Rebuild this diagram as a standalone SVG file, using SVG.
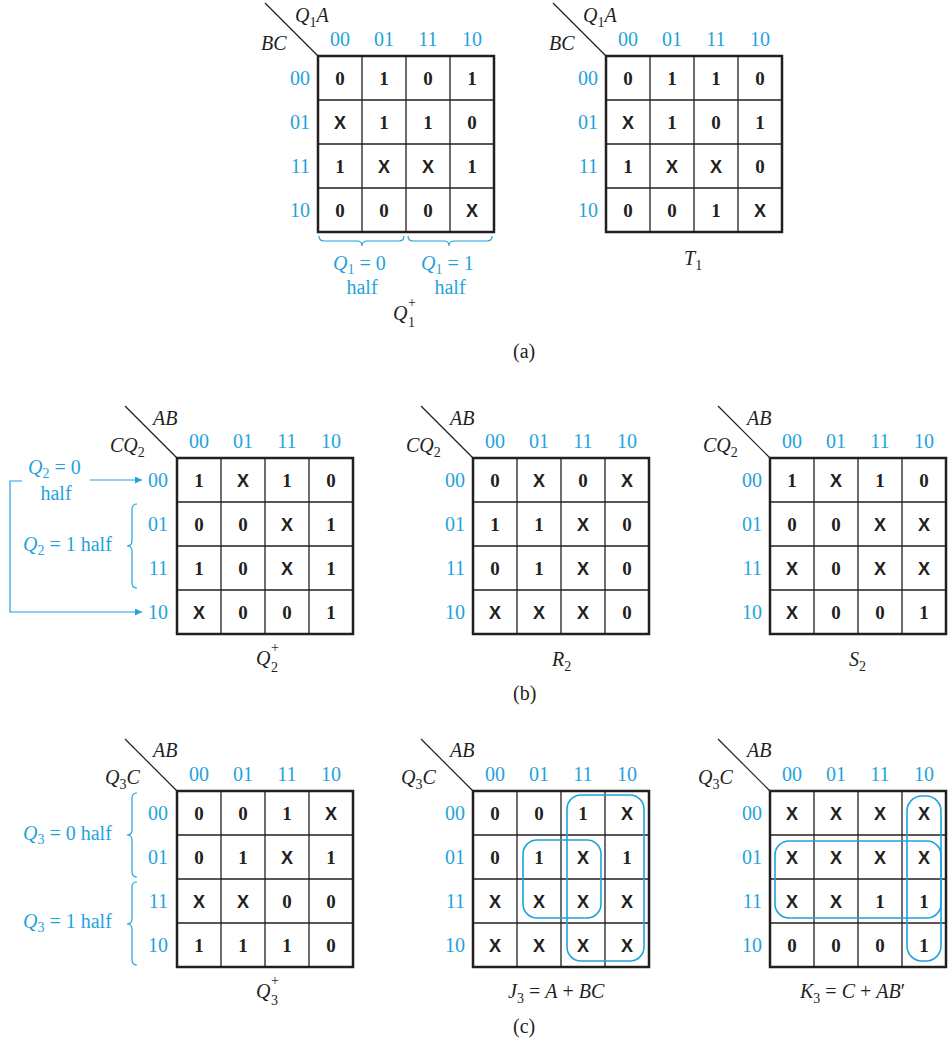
<svg xmlns="http://www.w3.org/2000/svg" width="948" height="1041" viewBox="0 0 948 1041">
<style>
text{font-family:"Liberation Serif",serif;fill:#231f20}
.c{font-weight:bold;font-size:19px;text-anchor:middle}
.x{font-family:"Liberation Sans",sans-serif;font-weight:bold;font-size:18px;text-anchor:middle}
.b,.b text{fill:#1fa3de;font-size:20px}
.cl,.cl text{text-anchor:middle}
.rl,.rl text{text-anchor:end}
.i{font-style:italic}
.t{font-size:20px}
.s{font-size:14px}
.outer{fill:none;stroke:#231f20;stroke-width:2.5}
.inner{fill:none;stroke:#231f20;stroke-width:1.3}
.diag{stroke:#231f20;stroke-width:1.2}
.blu{fill:none;stroke:#1fa3de;stroke-width:1.6}
.br{fill:none;stroke:#1fa3de;stroke-width:1.2}
</style>
<defs>
<marker id="ah" viewBox="0 0 10 10" refX="10" refY="5" markerWidth="9" markerHeight="7" markerUnits="userSpaceOnUse" orient="auto"><path d="M0,0 L10,5 L0,10 Z" fill="#1fa3de"/></marker>
<g id="grid">
<rect class="outer" x="0" y="0" width="176" height="176"/>
<path class="inner" d="M44,0V176M88,0V176M132,0V176M0,44H176M0,88H176M0,132H176"/>
</g>
</defs>

<!-- (a) Q1+ map -->
<g id="mapQ1">
<use href="#grid" x="318" y="56"/>
<line class="diag" x1="265" y1="3" x2="318" y2="56"/>
<text class="t i" x="295" y="22">Q<tspan class="s" dy="5" font-style="normal">1</tspan><tspan dy="-5">A</tspan></text>
<text class="t i" x="261" y="50">BC</text>
<g class="b cl"><text x="340" y="46">00</text><text x="384" y="46">01</text><text x="428" y="46">11</text><text x="472" y="46">10</text></g>
<g class="b rl"><text x="310" y="85">00</text><text x="310" y="129">01</text><text x="310" y="173">11</text><text x="310" y="217">10</text></g>
<text class="c" x="340" y="85">0</text><text class="c" x="384" y="85">1</text><text class="c" x="428" y="85">0</text><text class="c" x="472" y="85">1</text>
<text class="x" x="340" y="129">X</text><text class="c" x="384" y="129">1</text><text class="c" x="428" y="129">1</text><text class="c" x="472" y="129">0</text>
<text class="c" x="340" y="173">1</text><text class="x" x="384" y="173">X</text><text class="x" x="428" y="173">X</text><text class="c" x="472" y="173">1</text>
<text class="c" x="340" y="217">0</text><text class="c" x="384" y="217">0</text><text class="c" x="428" y="217">0</text><text class="x" x="472" y="217">X</text>
<path class="br" d="M319,236 q0,5 5,5 L357,241 q5,0 5,5 q0,-5 5,-5 L399,241 q5,0 5,-5"/>
<path class="br" d="M408,236 q0,5 5,5 L444,241 q5,0 5,5 q0,-5 5,-5 L487,241 q5,0 5,-5"/>
<text class="b" x="333" y="270"><tspan class="i">Q</tspan><tspan class="s" dy="4">1</tspan><tspan dy="-4"> = 0</tspan></text>
<text class="b cl" x="362" y="294">half</text>
<text class="b" x="421" y="270"><tspan class="i">Q</tspan><tspan class="s" dy="4">1</tspan><tspan dy="-4"> = 1</tspan></text>
<text class="b cl" x="450" y="294">half</text>
<text class="t i" x="393" y="320">Q</text><text class="s" x="408" y="307">+</text><text class="s" x="408" y="327">1</text>
</g>

<!-- (a) T1 map -->
<g id="mapT1">
<use href="#grid" x="606" y="56"/>
<line class="diag" x1="553" y1="3" x2="606" y2="56"/>
<text class="t i" x="583" y="22">Q<tspan class="s" dy="5" font-style="normal">1</tspan><tspan dy="-5">A</tspan></text>
<text class="t i" x="549" y="50">BC</text>
<g class="b cl"><text x="628" y="46">00</text><text x="672" y="46">01</text><text x="716" y="46">11</text><text x="760" y="46">10</text></g>
<g class="b rl"><text x="598" y="85">00</text><text x="598" y="129">01</text><text x="598" y="173">11</text><text x="598" y="217">10</text></g>
<text class="c" x="628" y="85">0</text><text class="c" x="672" y="85">1</text><text class="c" x="716" y="85">1</text><text class="c" x="760" y="85">0</text>
<text class="x" x="628" y="129">X</text><text class="c" x="672" y="129">1</text><text class="c" x="716" y="129">0</text><text class="c" x="760" y="129">1</text>
<text class="c" x="628" y="173">1</text><text class="x" x="672" y="173">X</text><text class="x" x="716" y="173">X</text><text class="c" x="760" y="173">0</text>
<text class="c" x="628" y="217">0</text><text class="c" x="672" y="217">0</text><text class="c" x="716" y="217">1</text><text class="x" x="760" y="217">X</text>
<text class="t" x="684" y="265"><tspan class="i">T</tspan><tspan class="s" dy="5">1</tspan></text>
</g>
<text class="t" x="513" y="358">(a)</text>

<!-- (b) Q2+ map -->
<g id="mapQ2">
<use href="#grid" x="177" y="458"/>
<line class="diag" x1="125" y1="406" x2="177" y2="458"/>
<text class="t i" x="153" y="425">AB</text>
<text class="t i" x="110" y="452">CQ<tspan class="s" dy="5" font-style="normal">2</tspan></text>
<g class="b cl"><text x="199" y="448">00</text><text x="243" y="448">01</text><text x="287" y="448">11</text><text x="331" y="448">10</text></g>
<g class="b rl"><text x="168" y="487">00</text><text x="168" y="531">01</text><text x="168" y="575">11</text><text x="168" y="619">10</text></g>
<text class="c" x="199" y="487">1</text><text class="x" x="243" y="487">X</text><text class="c" x="287" y="487">1</text><text class="c" x="331" y="487">0</text>
<text class="c" x="199" y="531">0</text><text class="c" x="243" y="531">0</text><text class="x" x="287" y="531">X</text><text class="c" x="331" y="531">1</text>
<text class="c" x="199" y="575">1</text><text class="c" x="243" y="575">0</text><text class="x" x="287" y="575">X</text><text class="c" x="331" y="575">1</text>
<text class="x" x="199" y="619">X</text><text class="c" x="243" y="619">0</text><text class="c" x="287" y="619">0</text><text class="c" x="331" y="619">1</text>
<text class="b" x="28" y="474"><tspan class="i">Q</tspan><tspan class="s" dy="4">2</tspan><tspan dy="-4"> = 0</tspan></text>
<text class="b cl" x="56" y="500">half</text>
<text class="b" x="23" y="551"><tspan class="i">Q</tspan><tspan class="s" dy="4">2</tspan><tspan dy="-4"> = 1 half</tspan></text>
<path class="br" d="M137,504 q-5,0 -5,5 L132,541 q0,5 -5,5 q5,0 5,5 L132,583 q0,5 5,5"/>
<text class="t i" x="256" y="665">Q</text><text class="s" x="271" y="652">+</text><text class="s" x="271" y="672">2</text>
</g>
<g id="connectors">
<line class="br" x1="90" y1="480" x2="142" y2="480" marker-end="url(#ah)"/>
<polyline class="br" points="22,481 10,481 10,612 142,612" marker-end="url(#ah)"/>
</g>

<!-- (b) R2 map -->
<g id="mapR2">
<use href="#grid" x="473" y="458"/>
<line class="diag" x1="421" y1="406" x2="473" y2="458"/>
<text class="t i" x="450" y="425">AB</text>
<text class="t i" x="406" y="452">CQ<tspan class="s" dy="5" font-style="normal">2</tspan></text>
<g class="b cl"><text x="495" y="448">00</text><text x="539" y="448">01</text><text x="583" y="448">11</text><text x="627" y="448">10</text></g>
<g class="b rl"><text x="465" y="487">00</text><text x="465" y="531">01</text><text x="465" y="575">11</text><text x="465" y="619">10</text></g>
<text class="c" x="495" y="487">0</text><text class="x" x="539" y="487">X</text><text class="c" x="583" y="487">0</text><text class="x" x="627" y="487">X</text>
<text class="c" x="495" y="531">1</text><text class="c" x="539" y="531">1</text><text class="x" x="583" y="531">X</text><text class="c" x="627" y="531">0</text>
<text class="c" x="495" y="575">0</text><text class="c" x="539" y="575">1</text><text class="x" x="583" y="575">X</text><text class="c" x="627" y="575">0</text>
<text class="x" x="495" y="619">X</text><text class="x" x="539" y="619">X</text><text class="x" x="583" y="619">X</text><text class="c" x="627" y="619">0</text>
<text class="t" x="552" y="666"><tspan class="i">R</tspan><tspan class="s" dy="5">2</tspan></text>
</g>

<!-- (b) S2 map -->
<g id="mapS2">
<use href="#grid" x="770" y="458"/>
<line class="diag" x1="718" y1="406" x2="770" y2="458"/>
<text class="t i" x="747" y="425">AB</text>
<text class="t i" x="703" y="452">CQ<tspan class="s" dy="5" font-style="normal">2</tspan></text>
<g class="b cl"><text x="792" y="448">00</text><text x="836" y="448">01</text><text x="880" y="448">11</text><text x="924" y="448">10</text></g>
<g class="b rl"><text x="762" y="487">00</text><text x="762" y="531">01</text><text x="762" y="575">11</text><text x="762" y="619">10</text></g>
<text class="c" x="792" y="487">1</text><text class="x" x="836" y="487">X</text><text class="c" x="880" y="487">1</text><text class="c" x="924" y="487">0</text>
<text class="c" x="792" y="531">0</text><text class="c" x="836" y="531">0</text><text class="x" x="880" y="531">X</text><text class="x" x="924" y="531">X</text>
<text class="x" x="792" y="575">X</text><text class="c" x="836" y="575">0</text><text class="x" x="880" y="575">X</text><text class="x" x="924" y="575">X</text>
<text class="x" x="792" y="619">X</text><text class="c" x="836" y="619">0</text><text class="c" x="880" y="619">0</text><text class="c" x="924" y="619">1</text>
<text class="t" x="849" y="666"><tspan class="i">S</tspan><tspan class="s" dy="5">2</tspan></text>
</g>
<text class="t" x="513" y="700">(b)</text>

<!-- (c) Q3+ map -->
<g id="mapQ3">
<use href="#grid" x="177" y="791"/>
<line class="diag" x1="125" y1="739" x2="177" y2="791"/>
<text class="t i" x="153" y="757">AB</text>
<text class="t i" x="105" y="784">Q<tspan class="s" dy="5" font-style="normal">3</tspan><tspan dy="-5">C</tspan></text>
<g class="b cl"><text x="199" y="781">00</text><text x="243" y="781">01</text><text x="287" y="781">11</text><text x="331" y="781">10</text></g>
<g class="b rl"><text x="168" y="820">00</text><text x="168" y="864">01</text><text x="168" y="908">11</text><text x="168" y="952">10</text></g>
<text class="c" x="199" y="820">0</text><text class="c" x="243" y="820">0</text><text class="c" x="287" y="820">1</text><text class="x" x="331" y="820">X</text>
<text class="c" x="199" y="864">0</text><text class="c" x="243" y="864">1</text><text class="x" x="287" y="864">X</text><text class="c" x="331" y="864">1</text>
<text class="x" x="199" y="908">X</text><text class="x" x="243" y="908">X</text><text class="c" x="287" y="908">0</text><text class="c" x="331" y="908">0</text>
<text class="c" x="199" y="952">1</text><text class="c" x="243" y="952">1</text><text class="c" x="287" y="952">1</text><text class="c" x="331" y="952">0</text>
<text class="b" x="23" y="840"><tspan class="i">Q</tspan><tspan class="s" dy="4">3</tspan><tspan dy="-4"> = 0 half</tspan></text>
<text class="b" x="23" y="928"><tspan class="i">Q</tspan><tspan class="s" dy="4">3</tspan><tspan dy="-4"> = 1 half</tspan></text>
<path class="br" d="M137,793 q-5,0 -5,5 L132,830 q0,5 -5,5 q5,0 5,5 L132,872 q0,5 5,5"/>
<path class="br" d="M137,882 q-5,0 -5,5 L132,919 q0,5 -5,5 q5,0 5,5 L132,960 q0,5 5,5"/>
<text class="t i" x="256" y="998">Q</text><text class="s" x="271" y="985">+</text><text class="s" x="271" y="1005">3</text>
</g>

<!-- (c) J3 map -->
<g id="mapJ3">
<use href="#grid" x="473" y="791"/>
<line class="diag" x1="421" y1="739" x2="473" y2="791"/>
<text class="t i" x="450" y="757">AB</text>
<text class="t i" x="401" y="784">Q<tspan class="s" dy="5" font-style="normal">3</tspan><tspan dy="-5">C</tspan></text>
<g class="b cl"><text x="495" y="781">00</text><text x="539" y="781">01</text><text x="583" y="781">11</text><text x="627" y="781">10</text></g>
<g class="b rl"><text x="465" y="820">00</text><text x="465" y="864">01</text><text x="465" y="908">11</text><text x="465" y="952">10</text></g>
<text class="c" x="495" y="820">0</text><text class="c" x="539" y="820">0</text><text class="c" x="583" y="820">1</text><text class="x" x="627" y="820">X</text>
<text class="c" x="495" y="864">0</text><text class="c" x="539" y="864">1</text><text class="x" x="583" y="864">X</text><text class="c" x="627" y="864">1</text>
<text class="x" x="495" y="908">X</text><text class="x" x="539" y="908">X</text><text class="x" x="583" y="908">X</text><text class="x" x="627" y="908">X</text>
<text class="x" x="495" y="952">X</text><text class="x" x="539" y="952">X</text><text class="x" x="583" y="952">X</text><text class="x" x="627" y="952">X</text>
<rect class="blu" x="567" y="795" width="77" height="166" rx="14"/>
<rect class="blu" x="523" y="840" width="78" height="78" rx="14"/>
<text class="t" x="508" y="998"><tspan class="i">J</tspan><tspan class="s" dy="5">3</tspan><tspan dy="-5"> = </tspan><tspan class="i">A</tspan> + <tspan class="i">BC</tspan></text>
</g>

<!-- (c) K3 map -->
<g id="mapK3">
<use href="#grid" x="770" y="791"/>
<line class="diag" x1="718" y1="739" x2="770" y2="791"/>
<text class="t i" x="747" y="757">AB</text>
<text class="t i" x="698" y="784">Q<tspan class="s" dy="5" font-style="normal">3</tspan><tspan dy="-5">C</tspan></text>
<g class="b cl"><text x="792" y="781">00</text><text x="836" y="781">01</text><text x="880" y="781">11</text><text x="924" y="781">10</text></g>
<g class="b rl"><text x="762" y="820">00</text><text x="762" y="864">01</text><text x="762" y="908">11</text><text x="762" y="952">10</text></g>
<text class="x" x="792" y="820">X</text><text class="x" x="836" y="820">X</text><text class="x" x="880" y="820">X</text><text class="x" x="924" y="820">X</text>
<text class="x" x="792" y="864">X</text><text class="x" x="836" y="864">X</text><text class="x" x="880" y="864">X</text><text class="x" x="924" y="864">X</text>
<text class="x" x="792" y="908">X</text><text class="x" x="836" y="908">X</text><text class="c" x="880" y="908">1</text><text class="c" x="924" y="908">1</text>
<text class="c" x="792" y="952">0</text><text class="c" x="836" y="952">0</text><text class="c" x="880" y="952">0</text><text class="c" x="924" y="952">1</text>
<rect class="blu" x="907" y="796" width="34" height="165" rx="15"/>
<rect class="blu" x="775" y="841" width="166" height="77" rx="14"/>
<text class="t" x="800" y="998"><tspan class="i">K</tspan><tspan class="s" dy="5">3</tspan><tspan dy="-5"> = </tspan><tspan class="i">C</tspan> + <tspan class="i">AB</tspan>′</text>
</g>
<text class="t" x="513" y="1033">(c)</text>
</svg>
